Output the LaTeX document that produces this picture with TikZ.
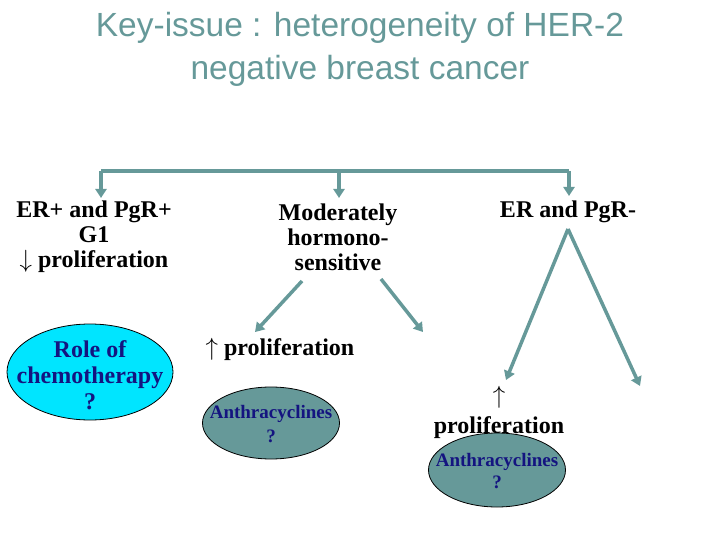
\documentclass[tikz,border=0pt]{standalone}
\usepackage{fontspec}
\setmainfont{Liberation Serif}
\newfontfamily\titlefont{Liberation Sans}
\usetikzlibrary{arrows.meta,shapes.geometric}

\definecolor{slate}{RGB}{102,153,153}
\definecolor{skyfill}{RGB}{0,229,255}
\definecolor{inkblue}{RGB}{20,20,128}

\tikzset{
  conn/.style={draw=slate, line width=3.5pt, -{Triangle[length=9pt,width=11pt]}},
  bar/.style={draw=slate, line width=3.5pt},
  lbl/.style={align=center, inner sep=0pt, font=\fontsize{24}{25}\selectfont\bfseries},
  oval/.style={ellipse, draw=black, line width=0.8pt, inner sep=0pt},
  ovaltext/.style={align=center, inner sep=0pt, text=inkblue}
}

\begin{document}
\begin{tikzpicture}[x=1pt,y=-1pt]
\useasboundingbox (0,0) rectangle (720,540);
%\draw[step=20,gray,very thin] (0,0) grid (720,540);

\node[align=center, text=slate, font=\titlefont\fontsize{33.5}{43}\selectfont] (title) at (360,49) {Key-issue : heterogeneity of HER-2\\negative breast cancer};

% three groups
\node[lbl] (pos) at (94,237) {ER+ and PgR+\\G1\\$\downarrow$ proliferation};
\node[lbl] (mod) at (338,237) {Moderately\\hormono-\\sensitive};
\node[lbl] (neg) at (568,212) {ER and PgR-};

% top bracket
\coordinate (barL) at (101,171);
\coordinate (barM) at (339,171);
\coordinate (barR) at (569,171);
\draw[bar] (barL) -- (barR);
\draw[conn] (barL) -- (101,198);
\draw[conn] (barM) -- (339,198);
\draw[conn] (barR) -- (569,196);

% moderately
\coordinate (modA) at (302,281);
\coordinate (modB) at (381,279);
\node[lbl] (upA) at (280,349) {$\uparrow$ proliferation};
\draw[conn] (modA) -- (255,332);
\draw[conn] (modB) -- (423,332);

% ER and PgR-
\coordinate (apex) at (568,229);
\draw[conn] (apex) -- (506,380);
\draw[conn] (apex) -- (640,386);

% ovals
\node[oval, fill=skyfill, minimum width=166pt, minimum height=96pt] (chemo) at (90,372) {};
\node[ovaltext, font=\fontsize{24}{26}\selectfont\bfseries] at ([yshift=-3]chemo) {Role of\\chemotherapy\\?};

\node[oval, fill=slate, minimum width=137pt, minimum height=72pt] (anthA) at (271,423) {};
\node[ovaltext, font=\fontsize{19}{24}\selectfont\bfseries] at ([yshift=-1]anthA) {Anthracyclines\\?};

\node[lbl, font=\fontsize{24}{30}\selectfont\bfseries] (upB) at (499,412) {$\uparrow$\\proliferation};

\node[oval, fill=slate, minimum width=137pt, minimum height=74pt] (anthB) at (497,470) {};
\node[ovaltext, font=\fontsize{19}{22}\selectfont\bfseries] at ([yshift=-1]anthB) {Anthracyclines\\?};

\end{tikzpicture}
\end{document}
